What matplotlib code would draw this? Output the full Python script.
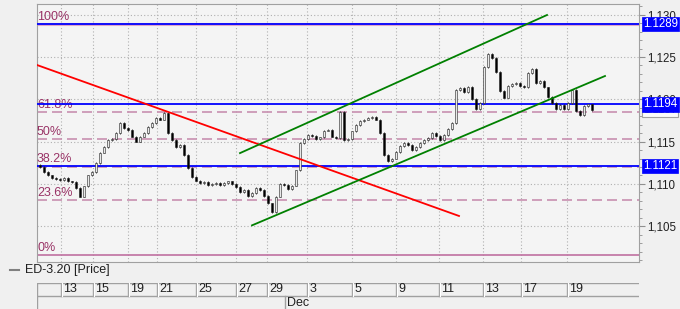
import matplotlib
matplotlib.use("Agg")
import matplotlib.pyplot as plt
from matplotlib.ticker import MultipleLocator, FuncFormatter
from matplotlib.lines import Line2D

plt.rcParams['font.family'] = ['Liberation Sans', 'DejaVu Sans']

# closing prices, one bar every step
closes = [1.1120, 1.1114, 1.1110, 1.1107, 1.1106, 1.1105, 1.1107, 1.1103, 1.1102, 1.1095,
          1.1085, 1.1097, 1.1110, 1.1114, 1.1125, 1.1137, 1.1144, 1.1152, 1.1153, 1.1160,
          1.1172, 1.1166, 1.1164, 1.1156, 1.1150, 1.1156, 1.1160, 1.1167, 1.1172, 1.1178,
          1.1176, 1.1184, 1.1160, 1.1152, 1.1144, 1.1146, 1.1134, 1.1119, 1.1108, 1.1104,
          1.1101, 1.1102, 1.1099, 1.1100, 1.1101, 1.1099, 1.1101, 1.1103, 1.1100, 1.1096,
          1.1090, 1.1093, 1.1086, 1.1089, 1.1095, 1.1093, 1.1086, 1.1077, 1.1067, 1.1085,
          1.1100, 1.1099, 1.1094, 1.1098, 1.1116, 1.1148, 1.1153, 1.1158, 1.1157, 1.1153,
          1.1155, 1.1163, 1.1164, 1.1156, 1.1154, 1.1185, 1.1152, 1.1153, 1.1162, 1.1170,
          1.1174, 1.1176, 1.1178, 1.1179, 1.1176, 1.1160, 1.1134, 1.1127, 1.1130, 1.1138,
          1.1145, 1.1148, 1.1146, 1.1140, 1.1144, 1.1148, 1.1152, 1.1154, 1.1160, 1.1157,
          1.1152, 1.1158, 1.1165, 1.1172, 1.1211, 1.1213, 1.1209, 1.1215, 1.1200, 1.1188,
          1.1196, 1.1238, 1.1254, 1.1249, 1.1232, 1.1210, 1.1202, 1.1216, 1.1218, 1.1219,
          1.1216, 1.1214, 1.1231, 1.1236, 1.1219, 1.1222, 1.1214, 1.1203, 1.1196, 1.1188,
          1.1193, 1.1188, 1.1196, 1.1211, 1.1186, 1.1181, 1.1192, 1.1194, 1.1187]

day_labels = ['13', '15', '19', '21', '25', '27', '29', '3', '5', '9', '11', '13', '17', '19']
day_pos = [5.25, 13.25, 22, 29.25, 39, 49, 56.75, 66.75, 78, 89, 99.75, 110.75, 120.25, 131.75]
month_label = 'Dec'
month_pos = 61.25

fib_low, fib_high = 1.1016, 1.1289
fib_levels = [0.0, 0.236, 0.382, 0.5, 0.618, 1.0]
fib_names = ['0%', '23.6%', '38.2%', '50%', '61.8%', '100%']

blue_levels = [1.1289, 1.1194, 1.1121]
last_price = 1.1187

# trend lines: (x0, y0, x1, y1)
red_line = (-0.75, 1.12405, 104.75, 1.10621)
green_low = (53, 1.1051, 141.25, 1.12275)
green_up = (50, 1.11364, 126.75, 1.12996)

W, H = 680, 309
fig = plt.figure(figsize=(W / 100, H / 100), dpi=100, facecolor='#f0f0f0')
L, R, T, B = 37, 639, 4, 262
ax = fig.add_axes([L / W, 1 - B / H, (R - L) / W, (B - T) / H])
ax.set_facecolor('#f4f4f4')
ax.set_xlim(-0.75, 149.75)
ax.set_ylim(1.10077, 1.13126)

# grid
ax.set_xticks(day_pos)
ax.tick_params(axis='x', length=0, labelbottom=False)
ax.yaxis.tick_right()
ax.yaxis.set_major_locator(MultipleLocator(0.005))
ax.yaxis.set_minor_locator(MultipleLocator(0.001))
ax.yaxis.set_major_formatter(FuncFormatter(lambda v, p: ('%.3f' % v).replace('.', ',')))
ax.tick_params(axis='y', which='major', length=4, color='#909090', labelsize=8.3, pad=2, labelcolor='#202020')
ax.tick_params(axis='y', which='minor', length=2.5, color='#909090')
ax.grid(True, which='major', color='#b0b0b0', linestyle=(0, (1, 2)), linewidth=0.8)
for s in ax.spines.values():
    s.set_color('#a0a0a0')

# fibonacci levels
for lev, name in zip(fib_levels, fib_names):
    v = fib_low + (fib_high - fib_low) * lev
    if lev in (0.0, 1.0):
        ax.axhline(v, color='#c070a0' if lev == 0 else '#e0a8c8', lw=1.2 if lev == 0 else 2.2, zorder=2)
    else:
        ax.axhline(v, color='#c890b0', lw=1.2, linestyle=(0, (6, 3)), zorder=2)
    ax.text(0.0, v + 0.00015, name, color='#993366', fontsize=9, va='bottom', ha='left',
            transform=ax.get_yaxis_transform(), zorder=3)

# candles
for i, c in enumerate(closes):
    o = closes[i - 1] if i > 0 else c + 0.0002
    lo, hi = min(o, c), max(o, c)
    ax.vlines(i, lo - 0.0001, hi + 0.0001, color='#202020', lw=0.6, zorder=4)
    ax.bar(i, max(hi - lo, 0.00006), bottom=lo, width=0.4,
           color='black' if c < o else '#e8e8e8', edgecolor='#202020', lw=0.4, zorder=5)

# trend lines
ax.plot(red_line[::2], red_line[1::2], color='#ff0000', lw=1.3, zorder=6)
ax.plot(green_low[::2], green_low[1::2], color='#008000', lw=1.3, zorder=6)
ax.plot(green_up[::2], green_up[1::2], color='#008000', lw=1.3, zorder=6)

# last price tag
ax.text(1.007, last_price, '%.4f' % last_price, transform=ax.get_yaxis_transform(),
        fontsize=8.3, color='#606060', va='center', ha='left', clip_on=False, zorder=7,
        bbox=dict(boxstyle='square,pad=0.1', fc='#fafafa', ec='#a0a0a0', lw=0.8))

# blue level lines + tags
for v in blue_levels:
    ax.axhline(v, color='#0000ff', lw=1.3, zorder=3)
    ax.text(1.007, v, '%.4f' % v, transform=ax.get_yaxis_transform(),
            fontsize=8.3, color='white', va='center', ha='left', clip_on=False, zorder=8,
            bbox=dict(boxstyle='square,pad=0.1', fc='#0000ff', ec='#0000ff', lw=0.5))

# legend
fig.add_artist(Line2D([10 / W, 19 / W], [1 - 270 / H] * 2, color='#808080', lw=1.5))
fig.text(25 / W, 1 - 270 / H, 'ED-3.20 [Price]', fontsize=9, va='center', ha='left', color='#202020')

# date rows
dx = fig.add_axes([L / W, 0, (R - L) / W, 26 / H], sharex=ax)
dx.set_ylim(0, 2)
dx.axis('off')
dx.axhline(2, color='#a0a0a0', lw=1)
dx.axhline(1, color='#a0a0a0', lw=1)
dx.axvline(-0.75, color='#a0a0a0', lw=1)
for p, lab in zip(day_pos, day_labels):
    dx.plot([p, p], [1, 2], color='#a0a0a0', lw=1)
    dx.plot([p + 0.25, p + 0.25], [1, 2], color='white', lw=0.8)
    dx.text(p + 0.6, 1.5, lab, fontsize=9, va='center', ha='left', color='#202020')
dx.plot([month_pos, month_pos], [0, 1], color='#a0a0a0', lw=1)
dx.text(month_pos + 0.6, 0.5, month_label, fontsize=9, va='center', ha='left', color='#202020')

fig.savefig('out.png', dpi=100, facecolor=fig.get_facecolor())
